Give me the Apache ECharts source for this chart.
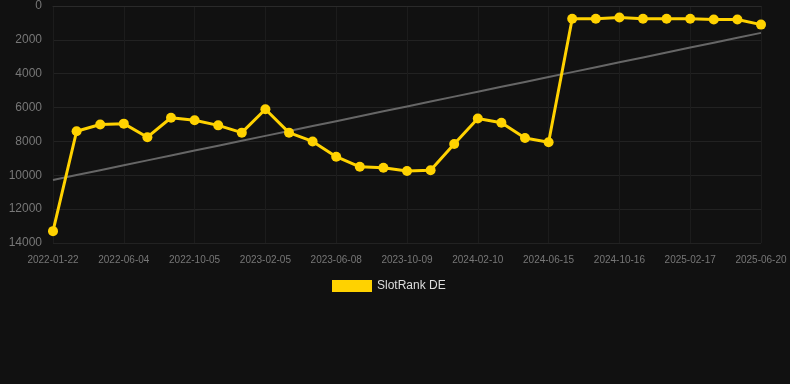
<!DOCTYPE html>
<html><head><meta charset="utf-8">
<script src="https://cdn.jsdelivr.net/npm/echarts@6/dist/echarts.min.js"></script>
<style>html,body{margin:0;padding:0;background:#111111;}#c{width:790px;height:384px;}</style>
</head><body><div id="c"></div>
<script>
const categories = ["2022-01-22","2022-02-21","2022-03-29","2022-06-04","2022-07-07","2022-08-10","2022-10-05","2022-11-08","2022-12-20","2023-02-05","2023-03-10","2023-04-20","2023-06-08","2023-07-12","2023-08-20","2023-10-09","2023-11-15","2023-12-20","2024-02-10","2024-03-15","2024-04-25","2024-06-15","2024-07-20","2024-08-30","2024-10-16","2024-11-20","2024-12-28","2025-02-17","2025-03-25","2025-05-01","2025-06-20"];
const rankValues = [13300,7400,7000,6950,7750,6600,6750,7050,7480,6100,7480,8000,8900,9500,9550,9750,9700,8150,6650,6900,7800,8050,750,750,680,750,750,750,800,800,1100];
const seriesName = "SlotRank DE";

// linear regression trend
const n = rankValues.length;
let sx=0, sy=0, sxy=0, sxx=0;
rankValues.forEach((v,i)=>{sx+=i;sy+=v;sxy+=i*v;sxx+=i*i;});
const slope = (n*sxy - sx*sy)/(n*sxx - sx*sx);
const icpt = (sy - slope*sx)/n;
const trend = rankValues.map((v,i)=>icpt+slope*i);

const chart = echarts.init(document.getElementById('c'));
chart.setOption({
  backgroundColor:'#111111',
  animation:false,
  grid:{left:53,right:29,top:6,bottom:141},
  legend:{data:[{name:seriesName,icon:'rect'}],left:327,bottom:87,itemWidth:40,itemHeight:12,itemGap:6,
    textStyle:{color:'#dddddd',fontSize:12,fontFamily:'Liberation Sans, Arial, sans-serif'}},
  xAxis:{type:'category',data:categories,boundaryGap:false,
    axisLine:{show:true,lineStyle:{color:'#2a2a2a'}},axisTick:{show:false},
    axisLabel:{color:'#777777',fontSize:10,interval:2,margin:12,fontFamily:'Liberation Sans, Arial, sans-serif'},
    splitLine:{show:true,interval:2,lineStyle:{color:'#1c1c1c'}}},
  yAxis:{type:'value',inverse:true,min:0,max:14000,interval:2000,
    axisLine:{show:false},axisTick:{show:false},
    axisLabel:{color:'#777777',fontSize:12,margin:11,formatter:v=>String(v),fontFamily:'Liberation Sans, Arial, sans-serif'},
    splitLine:{lineStyle:{color:'#222222'}}},
  series:[
    {name:seriesName,type:'line',data:rankValues,symbol:'circle',symbolSize:10,
      itemStyle:{color:'#FFD200'},lineStyle:{color:'#FFD200',width:3},z:3},
    {name:'trend',type:'line',data:trend,symbol:'none',
      lineStyle:{color:'#666666',width:2},z:2}
  ]
});
</script></body></html>
